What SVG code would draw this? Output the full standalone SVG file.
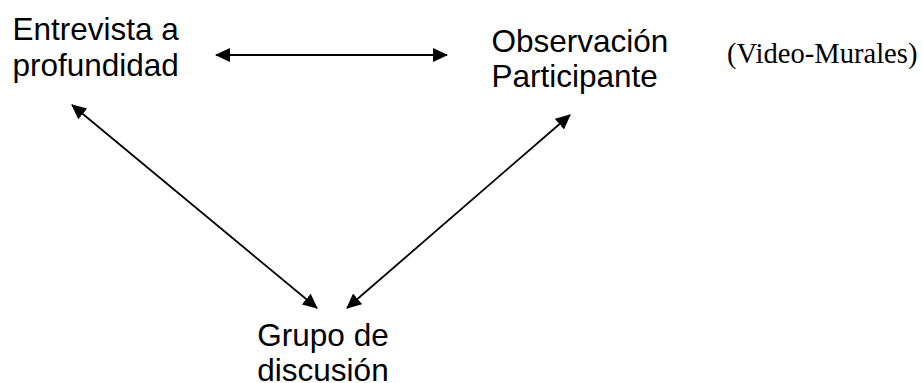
<svg xmlns="http://www.w3.org/2000/svg" width="923" height="383" viewBox="0 0 923 383">
  <style>
    .lbl { font-family: "Liberation Sans", Arial, sans-serif; font-size: 31.5px; fill: #000; }
    .note { font-family: "Liberation Serif", "Times New Roman", serif; font-size: 28.6px; fill: #000; }
    .conn { stroke: #000; stroke-width: 1.8; fill: none; marker-start: url(#ah); marker-end: url(#ah); }
  </style>
  <defs>
    <marker id="ah" viewBox="0 0 15 14" refX="14" refY="7" markerWidth="15" markerHeight="14" markerUnits="userSpaceOnUse" orient="auto-start-reverse">
      <path d="M0,0 L15,7 L0,14 z" fill="#000"/>
    </marker>
  </defs>
  <rect width="923" height="383" fill="#fff"/>
  <g id="connectors">
    <line class="conn" x1="216" y1="55" x2="447" y2="55"/>
    <line class="conn" x1="72" y1="105" x2="317" y2="308"/>
    <line class="conn" x1="570" y1="115" x2="347" y2="308"/>
  </g>
  <g id="entrevista">
    <text class="lbl" x="12.5" y="40">Entrevista a</text>
    <text class="lbl" x="12.5" y="75.6">profundidad</text>
  </g>
  <g id="observacion">
    <text class="lbl" x="491.5" y="51.5">Observación</text>
    <text class="lbl" x="491.5" y="87">Participante</text>
  </g>
  <g id="video-murales">
    <text class="note" x="727" y="63">(Video-Murales)</text>
  </g>
  <g id="grupo">
    <text class="lbl" x="323" y="346" text-anchor="middle">Grupo de</text>
    <text class="lbl" x="323" y="380.5" text-anchor="middle">discusión</text>
  </g>
</svg>
